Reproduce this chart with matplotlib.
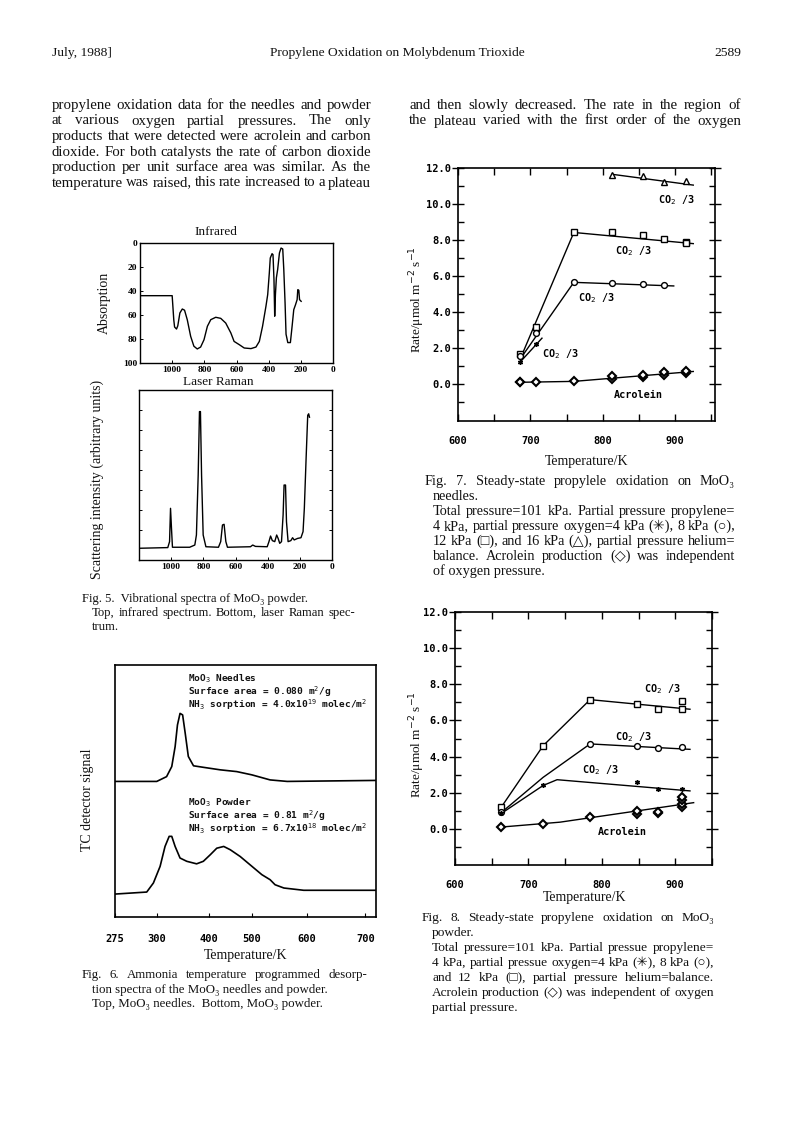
import numpy as np
import matplotlib
matplotlib.use("Agg")
import matplotlib.pyplot as plt
from matplotlib.ticker import FixedLocator, FormatStrFormatter, NullFormatter, NullLocator

# ---------------------------------------------------------------- data
# Fig. 5 (top) infrared spectrum: wavenumber / cm-1 and absorption
ir_wn = [1198, 1000, 990, 985, 973, 965, 952, 937, 923, 906, 885, 865, 844, 823, 802,
         781, 760, 729, 698, 667, 635, 615, 583, 552, 510, 479, 458, 438, 417, 406,
         396, 390, 379, 373, 367, 362.5, 358, 352, 344, 333, 323, 312.5, 306, 298, 292,
         281, 265, 254, 244, 233, 223, 219, 212.5, 208, 198]
ir_abs = [43.9, 43.9, 64, 70, 71.7, 69, 58.3, 55, 56, 64, 77.8, 86, 88.3, 86.7, 80.6,
          69.4, 63.9, 61.9, 62.8, 66.7, 75, 82, 84.7, 87.5, 88, 86.7, 82, 69.4, 52.8, 43,
          25, 12.5, 8.9, 9.7, 30.6, 61, 43, 29, 22, 8.3, 4.2, 5, 22, 50, 76,
          83, 83, 69, 55.6, 51.4, 47.2, 38.9, 39.4, 47.2, 48.6]
ir_yticks = [0, 20, 40, 60, 80, 100]
wn_ticks = [1000, 800, 600, 400, 200, 0]

# Fig. 5 (bottom) laser Raman spectrum (arbitrary units)
ram_wn = [1199, 1021, 1010, 1004, 998, 992, 885, 853, 843, 832, 824, 818, 811, 801, 784,
          706, 692, 681, 671, 660, 650, 507, 493, 476, 403, 392, 382, 371, 356, 344,
          335, 325, 314, 304, 298, 289, 283, 273, 256, 245, 235, 214, 193, 180, 172,
          161, 151, 145, 140]
ram_int = [6.9, 7.3, 10.8, 30.4, 18.6, 7.5, 7.5, 8.8, 14.7, 50, 87.3, 87.3, 50, 14.7, 7.8,
           7.5, 10.8, 20.6, 21, 10.8, 7.5, 7.8, 8.8, 8, 7.8, 10.8, 14.1, 11.4, 10.8, 14.7,
           12.7, 9.8, 10.8, 26.5, 44.1, 44.1, 22.5, 10.8, 11.4, 13.1, 11.8, 12.7, 13.1, 16.7, 30.4,
           59.8, 85.1, 86, 84]

# Fig. 6 NH3 TPD (temperature / K, TC detector signal)
tpd_needle_T = [275, 300, 319, 329, 335.5, 340, 345, 350, 355, 361, 371, 390, 427, 465, 500,
                533, 564, 718]
tpd_needle_S = [53.8, 53.8, 55.7, 59.7, 67.6, 76.2, 80.8, 80.2, 72.9, 63.7, 60.0, 59.4, 58.4,
                57.7, 56.4, 54.4, 53.8, 54.2]
tpd_powder_T = [275, 294, 298, 306.5, 316, 324, 329, 335.5, 345, 358, 377, 390, 404, 419, 435,
                450, 473, 500, 518, 533, 542, 558, 594, 718]
tpd_powder_S = [9.1, 9.9, 13.5, 20.1, 28.0, 32.0, 32.0, 28.0, 23.4, 22.1, 21.1, 22.1, 24.7,
                27.3, 28.0, 26.7, 24.0, 20.1, 16.8, 14.8, 12.8, 11.5, 10.6, 10.6]
tpd_ticks = [275, 300, 400, 500, 600, 700]
# hand-labelled temperature axis of the original (value -> relative position)
tpd_scale_K = [200, 275, 300, 400, 500, 600, 700, 800]
tpd_scale_u = [22.5, 135, 260, 415, 545, 710, 885, 1060]

# Fig. 7 needles: rate / umol m-2 s-1
f7_sq_T = [686, 708, 760, 813, 856, 884, 915, 915]
f7_sq_R = [1.69, 3.15, 8.42, 8.42, 8.29, 8.04, 7.90, 7.82]
f7_ci_T = [686, 708, 760, 813, 856, 884]
f7_ci_R = [1.55, 2.85, 5.65, 5.63, 5.54, 5.50]
f7_tr_T = [813, 856, 884, 915]
f7_tr_R = [11.63, 11.54, 11.22, 11.26]
f7_st_T = [686, 708]
f7_st_R = [1.23, 2.21]
f7_ac_T = [686, 686, 708, 760, 813, 813, 856, 856, 884, 884, 915, 915]
f7_ac_R = [0.10, 0.13, 0.10, 0.15, 0.30, 0.45, 0.40, 0.50, 0.50, 0.65, 0.60, 0.70]
# hand-drawn trend lines
f7_sq_line_T = [686, 760, 925]
f7_sq_line_R = [1.40, 8.42, 7.80]
f7_ci_line_T = [686, 760, 898]
f7_ci_line_R = [1.40, 5.65, 5.45]
f7_tr_line_T = [813, 925]
f7_tr_line_R = [11.65, 11.05]
f7_st_line_T = [686, 716]
f7_st_line_R = [1.23, 2.55]
f7_ac_line_T = [686, 760, 925]
f7_ac_line_R = [0.10, 0.15, 0.70]

# Fig. 8 powder
f8_sq_T = [663, 720, 784, 848, 877, 909, 909]
f8_sq_R = [1.22, 4.59, 7.15, 6.89, 6.62, 7.08, 6.65]
f8_ci_T = [663, 784, 848, 877, 909]
f8_ci_R = [0.95, 4.68, 4.59, 4.50, 4.53]
f8_st_T = [663, 720, 848, 877, 909]
f8_st_R = [0.85, 2.40, 2.62, 2.22, 2.20]
f8_ac_T = [663, 720, 784, 848, 848, 877, 877, 909, 909, 909, 909]
f8_ac_R = [0.10, 0.25, 0.65, 0.80, 1.00, 0.85, 0.95, 1.20, 1.40, 1.60, 1.75]
f8_sq_line_T = [663, 720, 784, 920]
f8_sq_line_R = [1.20, 4.60, 7.15, 6.62]
f8_ci_line_T = [663, 720, 784, 920]
f8_ci_line_R = [0.90, 2.85, 4.70, 4.40]
f8_st_line_T = [663, 720, 739, 920]
f8_st_line_R = [0.85, 2.40, 2.72, 2.10]
f8_ac_line_T = [663, 743, 925]
f8_ac_line_R = [0.10, 0.37, 1.45]

rate_ticks = [0, 2, 4, 6, 8, 10, 12]
rate_minor = [-1, 1, 3, 5, 7, 9, 11]
temp_ticks = [600, 700, 800, 900]
temp_minor = [650, 750, 850, 950]

# ---------------------------------------------------------------- page
W, H = 793.0, 1121.0
fig = plt.figure(figsize=(W / 100, H / 100), dpi=100)
fig.patch.set_facecolor("white")
SERIF = ["Liberation Serif", "DejaVu Serif", "DejaVu Sans"]
MONO = ["DejaVu Sans Mono", "DejaVu Sans"]
renderer = fig.canvas.get_renderer()


def axes_px(x0, y0, x1, y1):
    return fig.add_axes([x0 / W, 1 - y1 / H, (x1 - x0) / W, (y1 - y0) / H])


def ftext(x, y, s, **kw):
    kw.setdefault("family", SERIF)
    kw.setdefault("color", "#111111")
    return fig.text(x / W, 1 - y / H, s, **kw)


def fit_size(s, width):
    t = ftext(0, 0, " ".join(s.split()), fontsize=10)
    w = t.get_window_extent(renderer).width
    t.remove()
    return 10.0 * width / w * 0.985


def jline(x0, x1, y, s, size, justify=True):
    if not justify:
        ftext(x0, y, s, fontsize=size, va="baseline")
        return
    words = s.split()
    arts = [ftext(0, y, w, fontsize=size, va="baseline") for w in words]
    widths = [a.get_window_extent(renderer).width for a in arts]
    gap = (x1 - x0 - sum(widths)) / max(len(words) - 1, 1)
    x = x0
    for a, w in zip(arts, widths):
        a.set_x(x / W)
        x += w + gap


# header
ftext(52, 56, "July, 1988]", fontsize=9.7, va="baseline")
ftext(397, 56, "Propylene Oxidation on Molybdenum Trioxide", fontsize=9.7, va="baseline", ha="center")
ftext(741, 56, "2589", fontsize=9.7, va="baseline", ha="right")

left_lines = [
    "propylene oxidation data for the needles and powder",
    "at various oxygen partial pressures.  The only",
    "products that were detected were acrolein and carbon",
    "dioxide.  For both catalysts the rate of carbon dioxide",
    "production per unit surface area was similar.  As the",
    "temperature was raised, this rate increased to a plateau",
]
BODY = fit_size(left_lines[0], 319)
for i, s in enumerate(left_lines):
    jline(52, 371, 109 + 15.5 * i, s, BODY)
right_lines = [
    "and then slowly decreased.  The rate in the region of",
    "the plateau varied with the first order of the oxygen",
]
for i, s in enumerate(right_lines):
    jline(409, 741, 109 + 15.5 * i, s, BODY)

# ---------------------------------------------------------------- Fig 5 IR
ax = axes_px(140, 243, 333, 363)
ax.plot(ir_wn, ir_abs, color="black", lw=1.0)
ax.set_xlim(1200, 0)
ax.set_ylim(100, 0)
ax.xaxis.set_major_locator(FixedLocator(wn_ticks))
ax.yaxis.set_major_locator(FixedLocator(ir_yticks))
ax.tick_params(direction="in", length=2.5, width=0.7, labelsize=6.8, pad=2)
for lab in ax.get_xticklabels() + ax.get_yticklabels():
    lab.set_fontfamily(SERIF)
    lab.set_fontweight("bold")
for sp in ax.spines.values():
    sp.set_linewidth(1.0)
ftext(216, 232, "Infrared", fontsize=9.5, ha="center", va="center")
ftext(104, 303, "Absorption", fontsize=10, ha="center", va="center", rotation=90)

# ---------------------------------------------------------------- Fig 5 Raman
ax = axes_px(139, 390, 332, 560)
ax.plot(ram_wn, ram_int, color="black", lw=1.0)
ax.set_xlim(1200, 0)
ax.set_ylim(0, 100)
ax.xaxis.set_major_locator(FixedLocator(wn_ticks))
ax.yaxis.set_major_locator(FixedLocator(list(np.arange(17.6, 96, 11.76))))
ax.yaxis.set_major_formatter(NullFormatter())
ax.tick_params(direction="in", length=2.5, width=0.7, labelsize=6.8, pad=2, right=True)
for lab in ax.get_xticklabels():
    lab.set_fontfamily(SERIF)
    lab.set_fontweight("bold")
for sp in ax.spines.values():
    sp.set_linewidth(1.0)
ftext(218, 382, "Laser Raman", fontsize=9.5, ha="center", va="center")
ftext(97, 479, "Scattering intensity (arbitrary units)", fontsize=10, ha="center",
      va="center", rotation=90)

cap5 = [
    ("Fig. 5.  Vibrational spectra of MoO\u2083 powder.", 82, False),
    ("Top, infrared spectrum.  Bottom, laser Raman spec-", 92, True),
    ("trum.", 92, False),
]
CAP5 = fit_size(cap5[1][0], 263)
for i, (s, x0, j) in enumerate(cap5):
    jline(x0, 355, 602 + 14 * i, s, CAP5, justify=j)

# ---------------------------------------------------------------- Fig 6 TPD
ax = axes_px(115, 665, 376, 917)
ax.set_xscale("function", functions=(lambda v: np.interp(v, tpd_scale_K, tpd_scale_u),
                                     lambda u: np.interp(u, tpd_scale_u, tpd_scale_K)))
ax.plot(tpd_needle_T, tpd_needle_S, color="black", lw=1.2)
ax.plot(tpd_powder_T, tpd_powder_S, color="black", lw=1.2)
ax.set_xlim(275, 718)
ax.set_ylim(0, 100)
ax.xaxis.set_major_locator(FixedLocator(tpd_ticks))
ax.xaxis.set_minor_locator(NullLocator())
ax.xaxis.set_major_formatter(FormatStrFormatter("%d"))
ax.yaxis.set_major_locator(NullLocator())
ax.yaxis.set_minor_locator(NullLocator())
ax.tick_params(axis="x", direction="in", length=3, width=0.8, labelsize=7.5, pad=12)
for lab in ax.get_xticklabels():
    lab.set_fontfamily(MONO)
    lab.set_fontweight("bold")
for sp in ax.spines.values():
    sp.set_linewidth(1.2)
tkw = dict(fontsize=6.8, family=MONO, fontweight="bold", va="center", ha="left")
ftext(188, 679, "MoO$_3$ Needles", **tkw)
ftext(188, 692, "Surface area = 0.080 m$^2$/g", **tkw)
ftext(188, 705, "NH$_3$ sorption = 4.0x10$^{19}$ molec/m$^2$", **tkw)
ftext(188, 803, "MoO$_3$ Powder", **tkw)
ftext(188, 816, "Surface area = 0.81 m$^2$/g", **tkw)
ftext(188, 829, "NH$_3$ sorption = 6.7x10$^{18}$ molec/m$^2$", **tkw)
ftext(246, 956, "Temperature/K", fontsize=10, ha="center", va="center")
ftext(88, 800, "TC detector signal", fontsize=10, ha="center", va="center", rotation=90)

cap6 = [
    ("Fig. 6.  Ammonia temperature programmed desorp-", 82, True),
    ("tion spectra of the MoO\u2083 needles and powder.", 92, False),
    ("Top, MoO\u2083 needles.  Bottom, MoO\u2083 powder.", 92, False),
]
CAP6 = CAP5 * 1.02
for i, (s, x0, j) in enumerate(cap6):
    jline(x0, 367, 978 + 14.5 * i, s, CAP6, justify=j)


# ---------------------------------------------------------------- Fig 7 / Fig 8
def rate_axes(ax, xlim, ylim):
    ax.set_xlim(*xlim)
    ax.set_ylim(*ylim)
    ax.yaxis.set_major_locator(FixedLocator(rate_ticks))
    ax.yaxis.set_major_formatter(FormatStrFormatter("%.1f"))
    ax.yaxis.set_minor_locator(FixedLocator(rate_minor))
    ax.xaxis.set_major_locator(FixedLocator(temp_ticks))
    ax.xaxis.set_minor_locator(FixedLocator(temp_minor))
    ax.tick_params(axis="y", which="major", direction="inout", length=9, width=1.0,
                   left=True, right=True, pad=0.5, labelsize=7.5)
    ax.tick_params(axis="y", which="minor", direction="in", length=4, width=1.0,
                   left=True, right=True)
    ax.tick_params(axis="x", which="both", direction="in", length=5, width=1.0,
                   top=True, bottom=True, pad=11, labelsize=7.5)
    for lab in ax.get_xticklabels() + ax.get_yticklabels():
        lab.set_fontfamily(MONO)
        lab.set_fontweight("bold")
    for sp in ax.spines.values():
        sp.set_linewidth(1.2)


mk = dict(linestyle="none", color="black", mfc="white", mew=1.0)
lkw = dict(color="black", lw=1.0)
lab_kw = dict(fontsize=7.3, family=MONO, fontweight="bold", ha="center", va="center")

ax = axes_px(458, 168, 715, 421)
ax.plot(f7_sq_line_T, f7_sq_line_R, **lkw)
ax.plot(f7_ci_line_T, f7_ci_line_R, **lkw)
ax.plot(f7_tr_line_T, f7_tr_line_R, **lkw)
ax.plot(f7_st_line_T, f7_st_line_R, **lkw)
ax.plot(f7_ac_line_T, f7_ac_line_R, **lkw)
ax.plot(f7_sq_T, f7_sq_R, marker="s", ms=4.4, **mk)
ax.plot(f7_ci_T, f7_ci_R, marker="o", ms=4.2, **mk)
ax.plot(f7_tr_T, f7_tr_R, marker="^", ms=4.6, **mk)
ax.plot(f7_st_T, f7_st_R, marker=(6, 2, 0), ms=3.5, linestyle="none", color="black", mew=1.0)
ax.plot(f7_ac_T, f7_ac_R, marker="D", ms=3.6, linestyle="none", color="black", mfc="white", mew=1.5)
ax.text(902, 10.24, "CO$_2$ /3", **lab_kw)
ax.text(842, 7.36, "CO$_2$ /3", **lab_kw)
ax.text(791, 4.76, "CO$_2$ /3", **lab_kw)
ax.text(741, 1.69, "CO$_2$ /3", **lab_kw)
ax.text(849, -0.63, "Acrolein", **lab_kw)
rate_axes(ax, (600, 955), (-2.05, 12.0))
ftext(417, 300, "Rate/\u03bcmol m$^{-2}$ s$^{-1}$", fontsize=9.5, ha="center", va="center", rotation=90)
ftext(587, 462, "Temperature/K", fontsize=10, ha="center", va="center")

cap7 = [
    ("Fig. 7.  Steady-state propylele oxidation on MoO\u2083", 425, True),
    ("needles.", 433, False),
    ("Total pressure=101 kPa. Partial pressure propylene=", 433, True),
    ("4 kPa, partial pressure oxygen=4 kPa (\u2733), 8 kPa (\u25cb),", 433, True),
    ("12 kPa (\u25a1), and 16 kPa (\u25b3), partial pressure helium=", 433, True),
    ("balance.  Acrolein production (\u25c7) was independent", 433, True),
    ("of oxygen pressure.", 433, False),
]
CAP7 = fit_size(cap7[2][0], 302)
for i, (s, x0, j) in enumerate(cap7):
    jline(x0, 735, 485 + 15 * i, s, CAP7, justify=j)

ax = axes_px(455, 612, 712, 865)
ax.plot(f8_sq_line_T, f8_sq_line_R, **lkw)
ax.plot(f8_ci_line_T, f8_ci_line_R, **lkw)
ax.plot(f8_st_line_T, f8_st_line_R, **lkw)
ax.plot(f8_ac_line_T, f8_ac_line_R, **lkw)
ax.plot(f8_sq_T, f8_sq_R, marker="s", ms=4.4, **mk)
ax.plot(f8_ci_T, f8_ci_R, marker="o", ms=4.2, **mk)
ax.plot(f8_st_T, f8_st_R, marker=(6, 2, 0), ms=3.5, linestyle="none", color="black", mew=1.0)
ax.plot(f8_ac_T, f8_ac_R, marker="D", ms=3.6, linestyle="none", color="black", mfc="white", mew=1.5)
ax.text(882, 7.76, "CO$_2$ /3", **lab_kw)
ax.text(843, 5.09, "CO$_2$ /3", **lab_kw)
ax.text(798, 3.24, "CO$_2$ /3", **lab_kw)
ax.text(828, -0.2, "Acrolein", **lab_kw)
rate_axes(ax, (600, 950), (-2.0, 12.0))
ftext(417, 745, "Rate/\u03bcmol m$^{-2}$ s$^{-1}$", fontsize=9.5, ha="center", va="center", rotation=90)
ftext(585, 898, "Temperature/K", fontsize=10, ha="center", va="center")

cap8 = [
    ("Fig. 8.  Steady-state propylene oxidation on MoO\u2083", 422, True),
    ("powder.", 432, False),
    ("Total pressure=101 kPa.  Partial pressue propylene=", 432, True),
    ("4 kPa, partial pressue oxygen=4 kPa (\u2733), 8 kPa (\u25cb),", 432, True),
    ("and 12 kPa (\u25a1), partial pressure helium=balance.", 432, True),
    ("Acrolein production (\u25c7) was independent of oxygen", 432, True),
    ("partial pressure.", 432, False),
]
CAP8 = fit_size(cap8[2][0], 281)
for i, (s, x0, j) in enumerate(cap8):
    jline(x0, 714, 921 + 15 * i, s, CAP8, justify=j)

fig.savefig("out.png", dpi=100, facecolor="white")
